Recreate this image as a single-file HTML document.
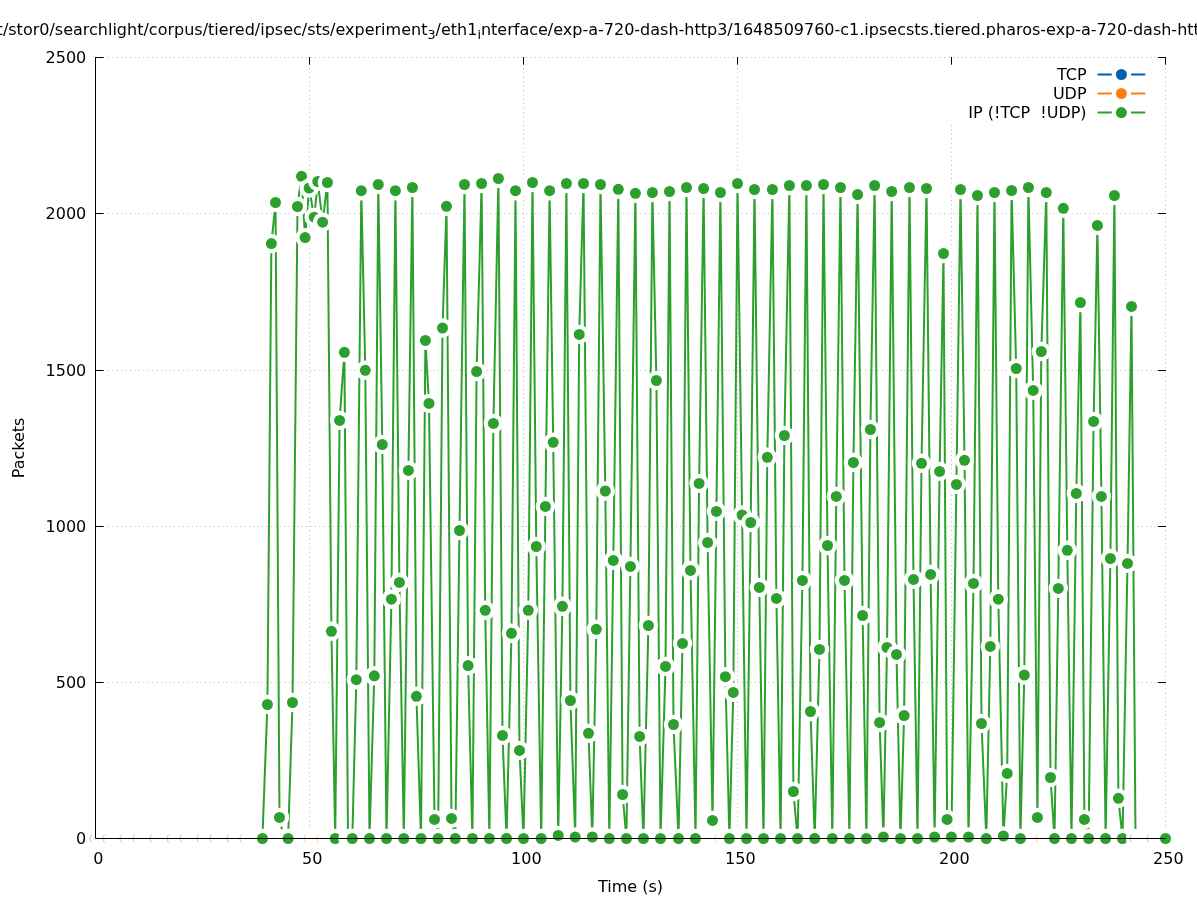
<!DOCTYPE html>
<html lang="en"><head><meta charset="utf-8"><title>Packets over time</title>
<style>html,body{margin:0;padding:0;background:#fff}svg{display:block}text{font-family:"DejaVu Sans","Liberation Sans",sans-serif;font-size:16px;fill:#000}</style></head><body>
<svg width="1197" height="900" viewBox="0 0 1197 900">
<rect width="1197" height="900" fill="#fff"/>
<g stroke="#000" stroke-opacity="0.62" stroke-width="0.5" stroke-dasharray="0.9 3.5" fill="none">
<path d="M108.15 682.5H1165.5"/>
<path d="M108.15 526.5H1165.5"/>
<path d="M108.15 370.5H1165.5"/>
<path d="M108.15 213.5H1165.5"/>
<path d="M108.15 57.5H1165.5"/>
<path d="M309.5 68.05V838.5"/>
<path d="M523.5 68.05V838.5"/>
<path d="M737.5 68.05V838.5"/>
<path d="M951.5 125.25V838.5"/>
<path d="M1165.5 68.05V838.5"/>
</g>
<g stroke="#000" stroke-width="1" fill="none">
<path d="M95.5 838.5h8.2M1166 838.5h-8"/>
<path d="M95.5 682.5h8.2M1166 682.5h-8"/>
<path d="M95.5 526.5h8.2M1166 526.5h-8"/>
<path d="M95.5 370.5h8.2M1166 370.5h-8"/>
<path d="M95.5 213.5h8.2M1166 213.5h-8"/>
<path d="M95.5 57.5h8.2M1166 57.5h-8"/>
<path d="M95.5 838.5v-8M95.5 57.0v7.7"/>
<path d="M309.5 838.5v-8M309.5 57.0v7.7"/>
<path d="M523.5 838.5v-8M523.5 57.0v7.7"/>
<path d="M737.5 838.5v-8M737.5 57.0v7.7"/>
<path d="M951.5 838.5v-8M951.5 57.0v7.7"/>
<path d="M1165.5 838.5v-8M1165.5 57.0v7.7"/>
</g>
<path d="M95.5 838.5H1165.5" stroke="#fff" stroke-width="19.4" stroke-linecap="round" fill="none"/>
<g fill="none" stroke-width="0.55" stroke-opacity="0.75">
<path d="M92.0 834.3A5.5 5.5 0 0 0 92.0 842.7" stroke="#ff7f0e"/>
<path d="M104.8 834.3A5.5 5.5 0 0 0 104.8 842.7" stroke="#ff7f0e"/>
<path d="M121.9 834.3A5.5 5.5 0 0 0 121.9 842.7" stroke="#ff7f0e"/>
<path d="M134.8 834.3A5.5 5.5 0 0 0 134.8 842.7" stroke="#ff7f0e"/>
<path d="M151.9 834.3A5.5 5.5 0 0 0 151.9 842.7" stroke="#ff7f0e"/>
<path d="M169.0 834.3A5.5 5.5 0 0 0 169.0 842.7" stroke="#ff7f0e"/>
<path d="M181.8 834.3A5.5 5.5 0 0 0 181.8 842.7" stroke="#ff7f0e"/>
<path d="M199.0 834.3A5.5 5.5 0 0 0 199.0 842.7" stroke="#ff7f0e"/>
<path d="M211.8 834.3A5.5 5.5 0 0 0 211.8 842.7" stroke="#ff7f0e"/>
<path d="M228.9 834.3A5.5 5.5 0 0 0 228.9 842.7" stroke="#ff7f0e"/>
<path d="M241.8 834.3A5.5 5.5 0 0 0 241.8 842.7" stroke="#ff7f0e"/>
<path d="M258.9 834.3A5.5 5.5 0 0 0 258.9 842.7" stroke="#ff7f0e"/>
<path d="M276.0 834.3A5.5 5.5 0 0 0 276.0 842.7" stroke="#ff7f0e"/>
<path d="M288.8 834.3A5.5 5.5 0 0 0 288.8 842.7" stroke="#ff7f0e"/>
<path d="M306.0 834.3A5.5 5.5 0 0 0 306.0 842.7" stroke="#ff7f0e"/>
<path d="M318.8 834.3A5.5 5.5 0 0 0 318.8 842.7" stroke="#ff7f0e"/>
<path d="M335.9 834.3A5.5 5.5 0 0 0 335.9 842.7" stroke="#ff7f0e"/>
<path d="M348.8 834.3A5.5 5.5 0 0 0 348.8 842.7" stroke="#ff7f0e"/>
<path d="M365.9 834.3A5.5 5.5 0 0 0 365.9 842.7" stroke="#ff7f0e"/>
<path d="M383.0 834.3A5.5 5.5 0 0 0 383.0 842.7" stroke="#ff7f0e"/>
<path d="M395.8 834.3A5.5 5.5 0 0 0 395.8 842.7" stroke="#ff7f0e"/>
<path d="M413.0 834.3A5.5 5.5 0 0 0 413.0 842.7" stroke="#ff7f0e"/>
<path d="M425.8 834.3A5.5 5.5 0 0 0 425.8 842.7" stroke="#ff7f0e"/>
<path d="M442.9 834.3A5.5 5.5 0 0 0 442.9 842.7" stroke="#ff7f0e"/>
<path d="M455.8 834.3A5.5 5.5 0 0 0 455.8 842.7" stroke="#ff7f0e"/>
<path d="M472.9 834.3A5.5 5.5 0 0 0 472.9 842.7" stroke="#ff7f0e"/>
<path d="M490.0 834.3A5.5 5.5 0 0 0 490.0 842.7" stroke="#ff7f0e"/>
<path d="M502.8 834.3A5.5 5.5 0 0 0 502.8 842.7" stroke="#ff7f0e"/>
<path d="M520.0 834.3A5.5 5.5 0 0 0 520.0 842.7" stroke="#ff7f0e"/>
<path d="M532.8 834.3A5.5 5.5 0 0 0 532.8 842.7" stroke="#ff7f0e"/>
<path d="M549.9 834.3A5.5 5.5 0 0 0 549.9 842.7" stroke="#ff7f0e"/>
<path d="M562.8 834.3A5.5 5.5 0 0 0 562.8 842.7" stroke="#ff7f0e"/>
<path d="M579.9 834.3A5.5 5.5 0 0 0 579.9 842.7" stroke="#ff7f0e"/>
<path d="M597.0 834.3A5.5 5.5 0 0 0 597.0 842.7" stroke="#ff7f0e"/>
<path d="M609.8 834.3A5.5 5.5 0 0 0 609.8 842.7" stroke="#ff7f0e"/>
<path d="M627.0 834.3A5.5 5.5 0 0 0 627.0 842.7" stroke="#ff7f0e"/>
<path d="M639.8 834.3A5.5 5.5 0 0 0 639.8 842.7" stroke="#ff7f0e"/>
<path d="M656.9 834.3A5.5 5.5 0 0 0 656.9 842.7" stroke="#ff7f0e"/>
<path d="M669.8 834.3A5.5 5.5 0 0 0 669.8 842.7" stroke="#ff7f0e"/>
<path d="M686.9 834.3A5.5 5.5 0 0 0 686.9 842.7" stroke="#ff7f0e"/>
<path d="M704.0 834.3A5.5 5.5 0 0 0 704.0 842.7" stroke="#ff7f0e"/>
<path d="M716.8 834.3A5.5 5.5 0 0 0 716.8 842.7" stroke="#ff7f0e"/>
<path d="M734.0 834.3A5.5 5.5 0 0 0 734.0 842.7" stroke="#ff7f0e"/>
<path d="M746.8 834.3A5.5 5.5 0 0 0 746.8 842.7" stroke="#ff7f0e"/>
<path d="M763.9 834.3A5.5 5.5 0 0 0 763.9 842.7" stroke="#ff7f0e"/>
<path d="M776.8 834.3A5.5 5.5 0 0 0 776.8 842.7" stroke="#ff7f0e"/>
<path d="M793.9 834.3A5.5 5.5 0 0 0 793.9 842.7" stroke="#ff7f0e"/>
<path d="M811.0 834.3A5.5 5.5 0 0 0 811.0 842.7" stroke="#ff7f0e"/>
<path d="M823.8 834.3A5.5 5.5 0 0 0 823.8 842.7" stroke="#ff7f0e"/>
<path d="M841.0 834.3A5.5 5.5 0 0 0 841.0 842.7" stroke="#ff7f0e"/>
<path d="M853.8 834.3A5.5 5.5 0 0 0 853.8 842.7" stroke="#ff7f0e"/>
<path d="M870.9 834.3A5.5 5.5 0 0 0 870.9 842.7" stroke="#ff7f0e"/>
<path d="M883.8 834.3A5.5 5.5 0 0 0 883.8 842.7" stroke="#ff7f0e"/>
<path d="M900.9 834.3A5.5 5.5 0 0 0 900.9 842.7" stroke="#ff7f0e"/>
<path d="M918.0 834.3A5.5 5.5 0 0 0 918.0 842.7" stroke="#ff7f0e"/>
<path d="M930.8 834.3A5.5 5.5 0 0 0 930.8 842.7" stroke="#ff7f0e"/>
<path d="M948.0 834.3A5.5 5.5 0 0 0 948.0 842.7" stroke="#ff7f0e"/>
<path d="M960.8 834.3A5.5 5.5 0 0 0 960.8 842.7" stroke="#ff7f0e"/>
<path d="M977.9 834.3A5.5 5.5 0 0 0 977.9 842.7" stroke="#ff7f0e"/>
<path d="M990.8 834.3A5.5 5.5 0 0 0 990.8 842.7" stroke="#ff7f0e"/>
<path d="M1007.9 834.3A5.5 5.5 0 0 0 1007.9 842.7" stroke="#ff7f0e"/>
<path d="M1025.0 834.3A5.5 5.5 0 0 0 1025.0 842.7" stroke="#ff7f0e"/>
<path d="M1037.8 834.3A5.5 5.5 0 0 0 1037.8 842.7" stroke="#ff7f0e"/>
<path d="M1055.0 834.3A5.5 5.5 0 0 0 1055.0 842.7" stroke="#ff7f0e"/>
<path d="M1067.8 834.3A5.5 5.5 0 0 0 1067.8 842.7" stroke="#ff7f0e"/>
<path d="M1084.9 834.3A5.5 5.5 0 0 0 1084.9 842.7" stroke="#ff7f0e"/>
<path d="M1097.8 834.3A5.5 5.5 0 0 0 1097.8 842.7" stroke="#ff7f0e"/>
<path d="M1114.9 834.3A5.5 5.5 0 0 0 1114.9 842.7" stroke="#ff7f0e"/>
<path d="M1132.0 834.3A5.5 5.5 0 0 0 1132.0 842.7" stroke="#ff7f0e"/>
<path d="M1144.8 834.3A5.5 5.5 0 0 0 1144.8 842.7" stroke="#ff7f0e"/>
</g>
<polyline points="95.5,838.5 99.8,838.5 104.1,838.5 108.3,838.5 112.6,838.5 116.9,838.5 121.2,838.5 125.5,838.5 129.7,838.5 134.0,838.5 138.3,838.5 142.6,838.5 146.9,838.5 151.1,838.5 155.4,838.5 159.7,838.5 164.0,838.5 168.3,838.5 172.5,838.5 176.8,838.5 181.1,838.5 185.4,838.5 189.7,838.5 193.9,838.5 198.2,838.5 202.5,838.5 206.8,838.5 211.1,838.5 215.3,838.5 219.6,838.5 223.9,838.5 228.2,838.5 232.5,838.5 236.7,838.5 241.0,838.5 245.3,838.5 249.6,838.5 253.9,838.5 258.1,838.5 262.4,838.5 267.4,704.5 271.4,243.6 275.5,202.5 279.5,817.4 283.8,838.5 288.1,838.5 292.5,702.5 297.5,206.5 301.5,176.3 305.1,237.6 309.1,188.1 314.2,217.2 317.8,181.5 322.6,222.2 327.4,182.5 331.4,631.3 335.2,838.5 339.6,420.4 344.4,352.3 348.0,838.5 352.3,838.5 356.3,679.7 361.3,190.7 365.3,370.3 369.5,838.5 374.3,675.8 378.3,184.5 382.3,444.5 386.5,838.5 391.4,599.2 395.4,190.7 399.4,582.4 403.8,838.5 408.4,470.4 412.4,187.5 416.4,696.3 421.0,838.5 425.4,340.4 429.0,403.4 434.5,819.4 438.1,838.5 442.5,328.0 446.5,206.3 451.5,818.4 455.3,838.5 459.5,530.5 464.5,184.5 468.1,665.6 472.4,838.5 476.6,371.5 481.6,183.5 485.2,610.3 489.4,838.5 493.4,423.4 498.4,178.5 502.5,735.4 506.5,838.5 511.5,633.3 515.5,190.7 519.5,750.4 523.5,838.5 528.3,610.3 532.5,182.5 536.3,546.5 541.2,838.5 545.4,506.4 549.6,190.7 553.2,442.3 558.2,835.4 562.4,606.3 566.4,183.5 570.4,700.5 575.2,837.0 579.2,334.4 583.5,183.5 588.5,733.3 592.3,837.0 596.3,629.3 600.5,184.5 605.3,491.0 609.3,838.5 613.3,560.4 618.3,189.3 622.6,794.5 626.4,838.5 630.4,566.4 635.4,193.3 639.6,736.4 643.4,838.5 648.4,625.5 652.4,192.5 656.4,380.5 660.5,838.5 665.5,666.4 669.5,191.5 673.5,724.5 678.5,838.5 682.5,643.4 686.5,187.5 690.5,570.4 695.5,838.5 699.1,483.4 703.6,188.5 707.6,542.5 712.5,820.4 716.4,511.4 720.4,192.5 725.4,676.7 729.4,838.5 733.3,692.4 737.5,183.5 742.1,515.0 746.5,838.5 750.7,522.5 754.5,189.5 759.3,587.4 763.5,838.5 767.3,457.3 772.4,189.5 776.4,598.4 780.6,838.5 784.4,435.5 789.4,185.5 793.4,791.5 797.6,838.5 802.4,580.4 806.4,185.5 810.5,711.5 814.7,838.5 819.5,649.4 823.5,184.5 827.5,545.5 832.3,838.5 836.3,496.4 840.5,187.5 844.5,580.4 849.4,838.5 853.4,462.5 857.6,194.5 862.6,615.5 866.4,838.5 870.4,429.5 874.6,185.5 879.6,722.5 883.4,837.0 887.0,647.4 891.7,191.5 896.5,654.4 900.5,838.5 904.1,715.5 909.5,187.5 913.5,579.4 917.5,838.5 921.5,463.3 926.5,188.5 930.6,574.4 934.6,837.0 939.6,471.4 943.5,253.5 947.1,819.4 951.4,837.0 956.4,484.4 960.5,189.5 964.5,460.3 968.5,837.0 973.5,583.4 977.5,195.5 981.5,723.5 986.3,838.5 990.3,646.4 994.5,192.5 998.3,599.2 1003.4,836.0 1007.2,773.4 1011.6,190.5 1016.2,368.5 1020.4,838.5 1024.3,675.0 1028.4,187.5 1033.2,390.4 1037.4,817.4 1041.3,351.5 1046.3,192.5 1050.5,777.5 1054.5,838.5 1058.3,588.4 1063.3,208.3 1067.3,550.3 1071.5,838.5 1076.3,493.4 1080.4,302.6 1084.4,819.4 1088.6,838.5 1093.6,421.4 1097.4,225.4 1101.4,496.4 1105.6,838.5 1110.4,558.5 1114.4,195.5 1118.4,798.3 1122.5,838.5 1127.5,563.4 1131.5,306.4 1135.5,838.5 1139.8,838.5 1144.1,838.5 1148.4,838.5 1152.7,838.5 1156.9,838.5 1161.2,838.5 1165.5,838.5" fill="none" stroke="#2ca02c" stroke-width="2.0" stroke-linejoin="round" stroke-linecap="butt"/>
<g>
<circle cx="95.5" cy="838.5" r="9.7" fill="#fff"/>
<circle cx="99.8" cy="838.5" r="9.7" fill="#fff"/>
<circle cx="104.1" cy="838.5" r="9.7" fill="#fff"/>
<circle cx="108.3" cy="838.5" r="9.7" fill="#fff"/>
<circle cx="112.6" cy="838.5" r="9.7" fill="#fff"/>
<circle cx="116.9" cy="838.5" r="9.7" fill="#fff"/>
<circle cx="121.2" cy="838.5" r="9.7" fill="#fff"/>
<circle cx="125.5" cy="838.5" r="9.7" fill="#fff"/>
<circle cx="129.7" cy="838.5" r="9.7" fill="#fff"/>
<circle cx="134.0" cy="838.5" r="9.7" fill="#fff"/>
<circle cx="138.3" cy="838.5" r="9.7" fill="#fff"/>
<circle cx="142.6" cy="838.5" r="9.7" fill="#fff"/>
<circle cx="146.9" cy="838.5" r="9.7" fill="#fff"/>
<circle cx="151.1" cy="838.5" r="9.7" fill="#fff"/>
<circle cx="155.4" cy="838.5" r="9.7" fill="#fff"/>
<circle cx="159.7" cy="838.5" r="9.7" fill="#fff"/>
<circle cx="164.0" cy="838.5" r="9.7" fill="#fff"/>
<circle cx="168.3" cy="838.5" r="9.7" fill="#fff"/>
<circle cx="172.5" cy="838.5" r="9.7" fill="#fff"/>
<circle cx="176.8" cy="838.5" r="9.7" fill="#fff"/>
<circle cx="181.1" cy="838.5" r="9.7" fill="#fff"/>
<circle cx="185.4" cy="838.5" r="9.7" fill="#fff"/>
<circle cx="189.7" cy="838.5" r="9.7" fill="#fff"/>
<circle cx="193.9" cy="838.5" r="9.7" fill="#fff"/>
<circle cx="198.2" cy="838.5" r="9.7" fill="#fff"/>
<circle cx="202.5" cy="838.5" r="9.7" fill="#fff"/>
<circle cx="206.8" cy="838.5" r="9.7" fill="#fff"/>
<circle cx="211.1" cy="838.5" r="9.7" fill="#fff"/>
<circle cx="215.3" cy="838.5" r="9.7" fill="#fff"/>
<circle cx="219.6" cy="838.5" r="9.7" fill="#fff"/>
<circle cx="223.9" cy="838.5" r="9.7" fill="#fff"/>
<circle cx="228.2" cy="838.5" r="9.7" fill="#fff"/>
<circle cx="232.5" cy="838.5" r="9.7" fill="#fff"/>
<circle cx="236.7" cy="838.5" r="9.7" fill="#fff"/>
<circle cx="241.0" cy="838.5" r="9.7" fill="#fff"/>
<circle cx="245.3" cy="838.5" r="9.7" fill="#fff"/>
<circle cx="249.6" cy="838.5" r="9.7" fill="#fff"/>
<circle cx="253.9" cy="838.5" r="9.7" fill="#fff"/>
<circle cx="258.1" cy="838.5" r="9.7" fill="#fff"/>
<circle cx="262.4" cy="838.5" r="9.7" fill="#fff"/><circle cx="262.4" cy="838.5" r="5.5" fill="#2ca02c"/>
<circle cx="267.4" cy="704.5" r="9.7" fill="#fff"/><circle cx="267.4" cy="704.5" r="5.5" fill="#2ca02c"/>
<circle cx="271.4" cy="243.6" r="9.7" fill="#fff"/><circle cx="271.4" cy="243.6" r="5.5" fill="#2ca02c"/>
<circle cx="275.5" cy="202.5" r="9.7" fill="#fff"/><circle cx="275.5" cy="202.5" r="5.5" fill="#2ca02c"/>
<circle cx="279.5" cy="817.4" r="9.7" fill="#fff"/><circle cx="279.5" cy="817.4" r="5.5" fill="#2ca02c"/>
<circle cx="283.8" cy="838.5" r="9.7" fill="#fff"/>
<circle cx="288.1" cy="838.5" r="9.7" fill="#fff"/><circle cx="288.1" cy="838.5" r="5.5" fill="#2ca02c"/>
<circle cx="292.5" cy="702.5" r="9.7" fill="#fff"/><circle cx="292.5" cy="702.5" r="5.5" fill="#2ca02c"/>
<circle cx="297.5" cy="206.5" r="9.7" fill="#fff"/><circle cx="297.5" cy="206.5" r="5.5" fill="#2ca02c"/>
<circle cx="301.5" cy="176.3" r="9.7" fill="#fff"/><circle cx="301.5" cy="176.3" r="5.5" fill="#2ca02c"/>
<circle cx="305.1" cy="237.6" r="9.7" fill="#fff"/><circle cx="305.1" cy="237.6" r="5.5" fill="#2ca02c"/>
<circle cx="309.1" cy="188.1" r="9.7" fill="#fff"/><circle cx="309.1" cy="188.1" r="5.5" fill="#2ca02c"/>
<circle cx="314.2" cy="217.2" r="9.7" fill="#fff"/><circle cx="314.2" cy="217.2" r="5.5" fill="#2ca02c"/>
<circle cx="317.8" cy="181.5" r="9.7" fill="#fff"/><circle cx="317.8" cy="181.5" r="5.5" fill="#2ca02c"/>
<circle cx="322.6" cy="222.2" r="9.7" fill="#fff"/><circle cx="322.6" cy="222.2" r="5.5" fill="#2ca02c"/>
<circle cx="327.4" cy="182.5" r="9.7" fill="#fff"/><circle cx="327.4" cy="182.5" r="5.5" fill="#2ca02c"/>
<circle cx="331.4" cy="631.3" r="9.7" fill="#fff"/><circle cx="331.4" cy="631.3" r="5.5" fill="#2ca02c"/>
<circle cx="335.2" cy="838.5" r="9.7" fill="#fff"/><circle cx="335.2" cy="838.5" r="5.5" fill="#2ca02c"/>
<circle cx="339.6" cy="420.4" r="9.7" fill="#fff"/><circle cx="339.6" cy="420.4" r="5.5" fill="#2ca02c"/>
<circle cx="344.4" cy="352.3" r="9.7" fill="#fff"/><circle cx="344.4" cy="352.3" r="5.5" fill="#2ca02c"/>
<circle cx="348.0" cy="838.5" r="9.7" fill="#fff"/>
<circle cx="352.3" cy="838.5" r="9.7" fill="#fff"/><circle cx="352.3" cy="838.5" r="5.5" fill="#2ca02c"/>
<circle cx="356.3" cy="679.7" r="9.7" fill="#fff"/><circle cx="356.3" cy="679.7" r="5.5" fill="#2ca02c"/>
<circle cx="361.3" cy="190.7" r="9.7" fill="#fff"/><circle cx="361.3" cy="190.7" r="5.5" fill="#2ca02c"/>
<circle cx="365.3" cy="370.3" r="9.7" fill="#fff"/><circle cx="365.3" cy="370.3" r="5.5" fill="#2ca02c"/>
<circle cx="369.5" cy="838.5" r="9.7" fill="#fff"/><circle cx="369.5" cy="838.5" r="5.5" fill="#2ca02c"/>
<circle cx="374.3" cy="675.8" r="9.7" fill="#fff"/><circle cx="374.3" cy="675.8" r="5.5" fill="#2ca02c"/>
<circle cx="378.3" cy="184.5" r="9.7" fill="#fff"/><circle cx="378.3" cy="184.5" r="5.5" fill="#2ca02c"/>
<circle cx="382.3" cy="444.5" r="9.7" fill="#fff"/><circle cx="382.3" cy="444.5" r="5.5" fill="#2ca02c"/>
<circle cx="386.5" cy="838.5" r="9.7" fill="#fff"/><circle cx="386.5" cy="838.5" r="5.5" fill="#2ca02c"/>
<circle cx="391.4" cy="599.2" r="9.7" fill="#fff"/><circle cx="391.4" cy="599.2" r="5.5" fill="#2ca02c"/>
<circle cx="395.4" cy="190.7" r="9.7" fill="#fff"/><circle cx="395.4" cy="190.7" r="5.5" fill="#2ca02c"/>
<circle cx="399.4" cy="582.4" r="9.7" fill="#fff"/><circle cx="399.4" cy="582.4" r="5.5" fill="#2ca02c"/>
<circle cx="403.8" cy="838.5" r="9.7" fill="#fff"/><circle cx="403.8" cy="838.5" r="5.5" fill="#2ca02c"/>
<circle cx="408.4" cy="470.4" r="9.7" fill="#fff"/><circle cx="408.4" cy="470.4" r="5.5" fill="#2ca02c"/>
<circle cx="412.4" cy="187.5" r="9.7" fill="#fff"/><circle cx="412.4" cy="187.5" r="5.5" fill="#2ca02c"/>
<circle cx="416.4" cy="696.3" r="9.7" fill="#fff"/><circle cx="416.4" cy="696.3" r="5.5" fill="#2ca02c"/>
<circle cx="421.0" cy="838.5" r="9.7" fill="#fff"/><circle cx="421.0" cy="838.5" r="5.5" fill="#2ca02c"/>
<circle cx="425.4" cy="340.4" r="9.7" fill="#fff"/><circle cx="425.4" cy="340.4" r="5.5" fill="#2ca02c"/>
<circle cx="429.0" cy="403.4" r="9.7" fill="#fff"/><circle cx="429.0" cy="403.4" r="5.5" fill="#2ca02c"/>
<circle cx="434.5" cy="819.4" r="9.7" fill="#fff"/><circle cx="434.5" cy="819.4" r="5.5" fill="#2ca02c"/>
<circle cx="438.1" cy="838.5" r="9.7" fill="#fff"/><circle cx="438.1" cy="838.5" r="5.5" fill="#2ca02c"/>
<circle cx="442.5" cy="328.0" r="9.7" fill="#fff"/><circle cx="442.5" cy="328.0" r="5.5" fill="#2ca02c"/>
<circle cx="446.5" cy="206.3" r="9.7" fill="#fff"/><circle cx="446.5" cy="206.3" r="5.5" fill="#2ca02c"/>
<circle cx="451.5" cy="818.4" r="9.7" fill="#fff"/><circle cx="451.5" cy="818.4" r="5.5" fill="#2ca02c"/>
<circle cx="455.3" cy="838.5" r="9.7" fill="#fff"/><circle cx="455.3" cy="838.5" r="5.5" fill="#2ca02c"/>
<circle cx="459.5" cy="530.5" r="9.7" fill="#fff"/><circle cx="459.5" cy="530.5" r="5.5" fill="#2ca02c"/>
<circle cx="464.5" cy="184.5" r="9.7" fill="#fff"/><circle cx="464.5" cy="184.5" r="5.5" fill="#2ca02c"/>
<circle cx="468.1" cy="665.6" r="9.7" fill="#fff"/><circle cx="468.1" cy="665.6" r="5.5" fill="#2ca02c"/>
<circle cx="472.4" cy="838.5" r="9.7" fill="#fff"/><circle cx="472.4" cy="838.5" r="5.5" fill="#2ca02c"/>
<circle cx="476.6" cy="371.5" r="9.7" fill="#fff"/><circle cx="476.6" cy="371.5" r="5.5" fill="#2ca02c"/>
<circle cx="481.6" cy="183.5" r="9.7" fill="#fff"/><circle cx="481.6" cy="183.5" r="5.5" fill="#2ca02c"/>
<circle cx="485.2" cy="610.3" r="9.7" fill="#fff"/><circle cx="485.2" cy="610.3" r="5.5" fill="#2ca02c"/>
<circle cx="489.4" cy="838.5" r="9.7" fill="#fff"/><circle cx="489.4" cy="838.5" r="5.5" fill="#2ca02c"/>
<circle cx="493.4" cy="423.4" r="9.7" fill="#fff"/><circle cx="493.4" cy="423.4" r="5.5" fill="#2ca02c"/>
<circle cx="498.4" cy="178.5" r="9.7" fill="#fff"/><circle cx="498.4" cy="178.5" r="5.5" fill="#2ca02c"/>
<circle cx="502.5" cy="735.4" r="9.7" fill="#fff"/><circle cx="502.5" cy="735.4" r="5.5" fill="#2ca02c"/>
<circle cx="506.5" cy="838.5" r="9.7" fill="#fff"/><circle cx="506.5" cy="838.5" r="5.5" fill="#2ca02c"/>
<circle cx="511.5" cy="633.3" r="9.7" fill="#fff"/><circle cx="511.5" cy="633.3" r="5.5" fill="#2ca02c"/>
<circle cx="515.5" cy="190.7" r="9.7" fill="#fff"/><circle cx="515.5" cy="190.7" r="5.5" fill="#2ca02c"/>
<circle cx="519.5" cy="750.4" r="9.7" fill="#fff"/><circle cx="519.5" cy="750.4" r="5.5" fill="#2ca02c"/>
<circle cx="523.5" cy="838.5" r="9.7" fill="#fff"/><circle cx="523.5" cy="838.5" r="5.5" fill="#2ca02c"/>
<circle cx="528.3" cy="610.3" r="9.7" fill="#fff"/><circle cx="528.3" cy="610.3" r="5.5" fill="#2ca02c"/>
<circle cx="532.5" cy="182.5" r="9.7" fill="#fff"/><circle cx="532.5" cy="182.5" r="5.5" fill="#2ca02c"/>
<circle cx="536.3" cy="546.5" r="9.7" fill="#fff"/><circle cx="536.3" cy="546.5" r="5.5" fill="#2ca02c"/>
<circle cx="541.2" cy="838.5" r="9.7" fill="#fff"/><circle cx="541.2" cy="838.5" r="5.5" fill="#2ca02c"/>
<circle cx="545.4" cy="506.4" r="9.7" fill="#fff"/><circle cx="545.4" cy="506.4" r="5.5" fill="#2ca02c"/>
<circle cx="549.6" cy="190.7" r="9.7" fill="#fff"/><circle cx="549.6" cy="190.7" r="5.5" fill="#2ca02c"/>
<circle cx="553.2" cy="442.3" r="9.7" fill="#fff"/><circle cx="553.2" cy="442.3" r="5.5" fill="#2ca02c"/>
<circle cx="558.2" cy="835.4" r="9.7" fill="#fff"/><circle cx="558.2" cy="835.4" r="5.5" fill="#2ca02c"/>
<circle cx="562.4" cy="606.3" r="9.7" fill="#fff"/><circle cx="562.4" cy="606.3" r="5.5" fill="#2ca02c"/>
<circle cx="566.4" cy="183.5" r="9.7" fill="#fff"/><circle cx="566.4" cy="183.5" r="5.5" fill="#2ca02c"/>
<circle cx="570.4" cy="700.5" r="9.7" fill="#fff"/><circle cx="570.4" cy="700.5" r="5.5" fill="#2ca02c"/>
<circle cx="575.2" cy="837.0" r="9.7" fill="#fff"/><circle cx="575.2" cy="837.0" r="5.5" fill="#2ca02c"/>
<circle cx="579.2" cy="334.4" r="9.7" fill="#fff"/><circle cx="579.2" cy="334.4" r="5.5" fill="#2ca02c"/>
<circle cx="583.5" cy="183.5" r="9.7" fill="#fff"/><circle cx="583.5" cy="183.5" r="5.5" fill="#2ca02c"/>
<circle cx="588.5" cy="733.3" r="9.7" fill="#fff"/><circle cx="588.5" cy="733.3" r="5.5" fill="#2ca02c"/>
<circle cx="592.3" cy="837.0" r="9.7" fill="#fff"/><circle cx="592.3" cy="837.0" r="5.5" fill="#2ca02c"/>
<circle cx="596.3" cy="629.3" r="9.7" fill="#fff"/><circle cx="596.3" cy="629.3" r="5.5" fill="#2ca02c"/>
<circle cx="600.5" cy="184.5" r="9.7" fill="#fff"/><circle cx="600.5" cy="184.5" r="5.5" fill="#2ca02c"/>
<circle cx="605.3" cy="491.0" r="9.7" fill="#fff"/><circle cx="605.3" cy="491.0" r="5.5" fill="#2ca02c"/>
<circle cx="609.3" cy="838.5" r="9.7" fill="#fff"/><circle cx="609.3" cy="838.5" r="5.5" fill="#2ca02c"/>
<circle cx="613.3" cy="560.4" r="9.7" fill="#fff"/><circle cx="613.3" cy="560.4" r="5.5" fill="#2ca02c"/>
<circle cx="618.3" cy="189.3" r="9.7" fill="#fff"/><circle cx="618.3" cy="189.3" r="5.5" fill="#2ca02c"/>
<circle cx="622.6" cy="794.5" r="9.7" fill="#fff"/><circle cx="622.6" cy="794.5" r="5.5" fill="#2ca02c"/>
<circle cx="626.4" cy="838.5" r="9.7" fill="#fff"/><circle cx="626.4" cy="838.5" r="5.5" fill="#2ca02c"/>
<circle cx="630.4" cy="566.4" r="9.7" fill="#fff"/><circle cx="630.4" cy="566.4" r="5.5" fill="#2ca02c"/>
<circle cx="635.4" cy="193.3" r="9.7" fill="#fff"/><circle cx="635.4" cy="193.3" r="5.5" fill="#2ca02c"/>
<circle cx="639.6" cy="736.4" r="9.7" fill="#fff"/><circle cx="639.6" cy="736.4" r="5.5" fill="#2ca02c"/>
<circle cx="643.4" cy="838.5" r="9.7" fill="#fff"/><circle cx="643.4" cy="838.5" r="5.5" fill="#2ca02c"/>
<circle cx="648.4" cy="625.5" r="9.7" fill="#fff"/><circle cx="648.4" cy="625.5" r="5.5" fill="#2ca02c"/>
<circle cx="652.4" cy="192.5" r="9.7" fill="#fff"/><circle cx="652.4" cy="192.5" r="5.5" fill="#2ca02c"/>
<circle cx="656.4" cy="380.5" r="9.7" fill="#fff"/><circle cx="656.4" cy="380.5" r="5.5" fill="#2ca02c"/>
<circle cx="660.5" cy="838.5" r="9.7" fill="#fff"/><circle cx="660.5" cy="838.5" r="5.5" fill="#2ca02c"/>
<circle cx="665.5" cy="666.4" r="9.7" fill="#fff"/><circle cx="665.5" cy="666.4" r="5.5" fill="#2ca02c"/>
<circle cx="669.5" cy="191.5" r="9.7" fill="#fff"/><circle cx="669.5" cy="191.5" r="5.5" fill="#2ca02c"/>
<circle cx="673.5" cy="724.5" r="9.7" fill="#fff"/><circle cx="673.5" cy="724.5" r="5.5" fill="#2ca02c"/>
<circle cx="678.5" cy="838.5" r="9.7" fill="#fff"/><circle cx="678.5" cy="838.5" r="5.5" fill="#2ca02c"/>
<circle cx="682.5" cy="643.4" r="9.7" fill="#fff"/><circle cx="682.5" cy="643.4" r="5.5" fill="#2ca02c"/>
<circle cx="686.5" cy="187.5" r="9.7" fill="#fff"/><circle cx="686.5" cy="187.5" r="5.5" fill="#2ca02c"/>
<circle cx="690.5" cy="570.4" r="9.7" fill="#fff"/><circle cx="690.5" cy="570.4" r="5.5" fill="#2ca02c"/>
<circle cx="695.5" cy="838.5" r="9.7" fill="#fff"/><circle cx="695.5" cy="838.5" r="5.5" fill="#2ca02c"/>
<circle cx="699.1" cy="483.4" r="9.7" fill="#fff"/><circle cx="699.1" cy="483.4" r="5.5" fill="#2ca02c"/>
<circle cx="703.6" cy="188.5" r="9.7" fill="#fff"/><circle cx="703.6" cy="188.5" r="5.5" fill="#2ca02c"/>
<circle cx="707.6" cy="542.5" r="9.7" fill="#fff"/><circle cx="707.6" cy="542.5" r="5.5" fill="#2ca02c"/>
<circle cx="712.5" cy="820.4" r="9.7" fill="#fff"/><circle cx="712.5" cy="820.4" r="5.5" fill="#2ca02c"/>
<circle cx="716.4" cy="511.4" r="9.7" fill="#fff"/><circle cx="716.4" cy="511.4" r="5.5" fill="#2ca02c"/>
<circle cx="720.4" cy="192.5" r="9.7" fill="#fff"/><circle cx="720.4" cy="192.5" r="5.5" fill="#2ca02c"/>
<circle cx="725.4" cy="676.7" r="9.7" fill="#fff"/><circle cx="725.4" cy="676.7" r="5.5" fill="#2ca02c"/>
<circle cx="729.4" cy="838.5" r="9.7" fill="#fff"/><circle cx="729.4" cy="838.5" r="5.5" fill="#2ca02c"/>
<circle cx="733.3" cy="692.4" r="9.7" fill="#fff"/><circle cx="733.3" cy="692.4" r="5.5" fill="#2ca02c"/>
<circle cx="737.5" cy="183.5" r="9.7" fill="#fff"/><circle cx="737.5" cy="183.5" r="5.5" fill="#2ca02c"/>
<circle cx="742.1" cy="515.0" r="9.7" fill="#fff"/><circle cx="742.1" cy="515.0" r="5.5" fill="#2ca02c"/>
<circle cx="746.5" cy="838.5" r="9.7" fill="#fff"/><circle cx="746.5" cy="838.5" r="5.5" fill="#2ca02c"/>
<circle cx="750.7" cy="522.5" r="9.7" fill="#fff"/><circle cx="750.7" cy="522.5" r="5.5" fill="#2ca02c"/>
<circle cx="754.5" cy="189.5" r="9.7" fill="#fff"/><circle cx="754.5" cy="189.5" r="5.5" fill="#2ca02c"/>
<circle cx="759.3" cy="587.4" r="9.7" fill="#fff"/><circle cx="759.3" cy="587.4" r="5.5" fill="#2ca02c"/>
<circle cx="763.5" cy="838.5" r="9.7" fill="#fff"/><circle cx="763.5" cy="838.5" r="5.5" fill="#2ca02c"/>
<circle cx="767.3" cy="457.3" r="9.7" fill="#fff"/><circle cx="767.3" cy="457.3" r="5.5" fill="#2ca02c"/>
<circle cx="772.4" cy="189.5" r="9.7" fill="#fff"/><circle cx="772.4" cy="189.5" r="5.5" fill="#2ca02c"/>
<circle cx="776.4" cy="598.4" r="9.7" fill="#fff"/><circle cx="776.4" cy="598.4" r="5.5" fill="#2ca02c"/>
<circle cx="780.6" cy="838.5" r="9.7" fill="#fff"/><circle cx="780.6" cy="838.5" r="5.5" fill="#2ca02c"/>
<circle cx="784.4" cy="435.5" r="9.7" fill="#fff"/><circle cx="784.4" cy="435.5" r="5.5" fill="#2ca02c"/>
<circle cx="789.4" cy="185.5" r="9.7" fill="#fff"/><circle cx="789.4" cy="185.5" r="5.5" fill="#2ca02c"/>
<circle cx="793.4" cy="791.5" r="9.7" fill="#fff"/><circle cx="793.4" cy="791.5" r="5.5" fill="#2ca02c"/>
<circle cx="797.6" cy="838.5" r="9.7" fill="#fff"/><circle cx="797.6" cy="838.5" r="5.5" fill="#2ca02c"/>
<circle cx="802.4" cy="580.4" r="9.7" fill="#fff"/><circle cx="802.4" cy="580.4" r="5.5" fill="#2ca02c"/>
<circle cx="806.4" cy="185.5" r="9.7" fill="#fff"/><circle cx="806.4" cy="185.5" r="5.5" fill="#2ca02c"/>
<circle cx="810.5" cy="711.5" r="9.7" fill="#fff"/><circle cx="810.5" cy="711.5" r="5.5" fill="#2ca02c"/>
<circle cx="814.7" cy="838.5" r="9.7" fill="#fff"/><circle cx="814.7" cy="838.5" r="5.5" fill="#2ca02c"/>
<circle cx="819.5" cy="649.4" r="9.7" fill="#fff"/><circle cx="819.5" cy="649.4" r="5.5" fill="#2ca02c"/>
<circle cx="823.5" cy="184.5" r="9.7" fill="#fff"/><circle cx="823.5" cy="184.5" r="5.5" fill="#2ca02c"/>
<circle cx="827.5" cy="545.5" r="9.7" fill="#fff"/><circle cx="827.5" cy="545.5" r="5.5" fill="#2ca02c"/>
<circle cx="832.3" cy="838.5" r="9.7" fill="#fff"/><circle cx="832.3" cy="838.5" r="5.5" fill="#2ca02c"/>
<circle cx="836.3" cy="496.4" r="9.7" fill="#fff"/><circle cx="836.3" cy="496.4" r="5.5" fill="#2ca02c"/>
<circle cx="840.5" cy="187.5" r="9.7" fill="#fff"/><circle cx="840.5" cy="187.5" r="5.5" fill="#2ca02c"/>
<circle cx="844.5" cy="580.4" r="9.7" fill="#fff"/><circle cx="844.5" cy="580.4" r="5.5" fill="#2ca02c"/>
<circle cx="849.4" cy="838.5" r="9.7" fill="#fff"/><circle cx="849.4" cy="838.5" r="5.5" fill="#2ca02c"/>
<circle cx="853.4" cy="462.5" r="9.7" fill="#fff"/><circle cx="853.4" cy="462.5" r="5.5" fill="#2ca02c"/>
<circle cx="857.6" cy="194.5" r="9.7" fill="#fff"/><circle cx="857.6" cy="194.5" r="5.5" fill="#2ca02c"/>
<circle cx="862.6" cy="615.5" r="9.7" fill="#fff"/><circle cx="862.6" cy="615.5" r="5.5" fill="#2ca02c"/>
<circle cx="866.4" cy="838.5" r="9.7" fill="#fff"/><circle cx="866.4" cy="838.5" r="5.5" fill="#2ca02c"/>
<circle cx="870.4" cy="429.5" r="9.7" fill="#fff"/><circle cx="870.4" cy="429.5" r="5.5" fill="#2ca02c"/>
<circle cx="874.6" cy="185.5" r="9.7" fill="#fff"/><circle cx="874.6" cy="185.5" r="5.5" fill="#2ca02c"/>
<circle cx="879.6" cy="722.5" r="9.7" fill="#fff"/><circle cx="879.6" cy="722.5" r="5.5" fill="#2ca02c"/>
<circle cx="883.4" cy="837.0" r="9.7" fill="#fff"/><circle cx="883.4" cy="837.0" r="5.5" fill="#2ca02c"/>
<circle cx="887.0" cy="647.4" r="9.7" fill="#fff"/><circle cx="887.0" cy="647.4" r="5.5" fill="#2ca02c"/>
<circle cx="891.7" cy="191.5" r="9.7" fill="#fff"/><circle cx="891.7" cy="191.5" r="5.5" fill="#2ca02c"/>
<circle cx="896.5" cy="654.4" r="9.7" fill="#fff"/><circle cx="896.5" cy="654.4" r="5.5" fill="#2ca02c"/>
<circle cx="900.5" cy="838.5" r="9.7" fill="#fff"/><circle cx="900.5" cy="838.5" r="5.5" fill="#2ca02c"/>
<circle cx="904.1" cy="715.5" r="9.7" fill="#fff"/><circle cx="904.1" cy="715.5" r="5.5" fill="#2ca02c"/>
<circle cx="909.5" cy="187.5" r="9.7" fill="#fff"/><circle cx="909.5" cy="187.5" r="5.5" fill="#2ca02c"/>
<circle cx="913.5" cy="579.4" r="9.7" fill="#fff"/><circle cx="913.5" cy="579.4" r="5.5" fill="#2ca02c"/>
<circle cx="917.5" cy="838.5" r="9.7" fill="#fff"/><circle cx="917.5" cy="838.5" r="5.5" fill="#2ca02c"/>
<circle cx="921.5" cy="463.3" r="9.7" fill="#fff"/><circle cx="921.5" cy="463.3" r="5.5" fill="#2ca02c"/>
<circle cx="926.5" cy="188.5" r="9.7" fill="#fff"/><circle cx="926.5" cy="188.5" r="5.5" fill="#2ca02c"/>
<circle cx="930.6" cy="574.4" r="9.7" fill="#fff"/><circle cx="930.6" cy="574.4" r="5.5" fill="#2ca02c"/>
<circle cx="934.6" cy="837.0" r="9.7" fill="#fff"/><circle cx="934.6" cy="837.0" r="5.5" fill="#2ca02c"/>
<circle cx="939.6" cy="471.4" r="9.7" fill="#fff"/><circle cx="939.6" cy="471.4" r="5.5" fill="#2ca02c"/>
<circle cx="943.5" cy="253.5" r="9.7" fill="#fff"/><circle cx="943.5" cy="253.5" r="5.5" fill="#2ca02c"/>
<circle cx="947.1" cy="819.4" r="9.7" fill="#fff"/><circle cx="947.1" cy="819.4" r="5.5" fill="#2ca02c"/>
<circle cx="951.4" cy="837.0" r="9.7" fill="#fff"/><circle cx="951.4" cy="837.0" r="5.5" fill="#2ca02c"/>
<circle cx="956.4" cy="484.4" r="9.7" fill="#fff"/><circle cx="956.4" cy="484.4" r="5.5" fill="#2ca02c"/>
<circle cx="960.5" cy="189.5" r="9.7" fill="#fff"/><circle cx="960.5" cy="189.5" r="5.5" fill="#2ca02c"/>
<circle cx="964.5" cy="460.3" r="9.7" fill="#fff"/><circle cx="964.5" cy="460.3" r="5.5" fill="#2ca02c"/>
<circle cx="968.5" cy="837.0" r="9.7" fill="#fff"/><circle cx="968.5" cy="837.0" r="5.5" fill="#2ca02c"/>
<circle cx="973.5" cy="583.4" r="9.7" fill="#fff"/><circle cx="973.5" cy="583.4" r="5.5" fill="#2ca02c"/>
<circle cx="977.5" cy="195.5" r="9.7" fill="#fff"/><circle cx="977.5" cy="195.5" r="5.5" fill="#2ca02c"/>
<circle cx="981.5" cy="723.5" r="9.7" fill="#fff"/><circle cx="981.5" cy="723.5" r="5.5" fill="#2ca02c"/>
<circle cx="986.3" cy="838.5" r="9.7" fill="#fff"/><circle cx="986.3" cy="838.5" r="5.5" fill="#2ca02c"/>
<circle cx="990.3" cy="646.4" r="9.7" fill="#fff"/><circle cx="990.3" cy="646.4" r="5.5" fill="#2ca02c"/>
<circle cx="994.5" cy="192.5" r="9.7" fill="#fff"/><circle cx="994.5" cy="192.5" r="5.5" fill="#2ca02c"/>
<circle cx="998.3" cy="599.2" r="9.7" fill="#fff"/><circle cx="998.3" cy="599.2" r="5.5" fill="#2ca02c"/>
<circle cx="1003.4" cy="836.0" r="9.7" fill="#fff"/><circle cx="1003.4" cy="836.0" r="5.5" fill="#2ca02c"/>
<circle cx="1007.2" cy="773.4" r="9.7" fill="#fff"/><circle cx="1007.2" cy="773.4" r="5.5" fill="#2ca02c"/>
<circle cx="1011.6" cy="190.5" r="9.7" fill="#fff"/><circle cx="1011.6" cy="190.5" r="5.5" fill="#2ca02c"/>
<circle cx="1016.2" cy="368.5" r="9.7" fill="#fff"/><circle cx="1016.2" cy="368.5" r="5.5" fill="#2ca02c"/>
<circle cx="1020.4" cy="838.5" r="9.7" fill="#fff"/><circle cx="1020.4" cy="838.5" r="5.5" fill="#2ca02c"/>
<circle cx="1024.3" cy="675.0" r="9.7" fill="#fff"/><circle cx="1024.3" cy="675.0" r="5.5" fill="#2ca02c"/>
<circle cx="1028.4" cy="187.5" r="9.7" fill="#fff"/><circle cx="1028.4" cy="187.5" r="5.5" fill="#2ca02c"/>
<circle cx="1033.2" cy="390.4" r="9.7" fill="#fff"/><circle cx="1033.2" cy="390.4" r="5.5" fill="#2ca02c"/>
<circle cx="1037.4" cy="817.4" r="9.7" fill="#fff"/><circle cx="1037.4" cy="817.4" r="5.5" fill="#2ca02c"/>
<circle cx="1041.3" cy="351.5" r="9.7" fill="#fff"/><circle cx="1041.3" cy="351.5" r="5.5" fill="#2ca02c"/>
<circle cx="1046.3" cy="192.5" r="9.7" fill="#fff"/><circle cx="1046.3" cy="192.5" r="5.5" fill="#2ca02c"/>
<circle cx="1050.5" cy="777.5" r="9.7" fill="#fff"/><circle cx="1050.5" cy="777.5" r="5.5" fill="#2ca02c"/>
<circle cx="1054.5" cy="838.5" r="9.7" fill="#fff"/><circle cx="1054.5" cy="838.5" r="5.5" fill="#2ca02c"/>
<circle cx="1058.3" cy="588.4" r="9.7" fill="#fff"/><circle cx="1058.3" cy="588.4" r="5.5" fill="#2ca02c"/>
<circle cx="1063.3" cy="208.3" r="9.7" fill="#fff"/><circle cx="1063.3" cy="208.3" r="5.5" fill="#2ca02c"/>
<circle cx="1067.3" cy="550.3" r="9.7" fill="#fff"/><circle cx="1067.3" cy="550.3" r="5.5" fill="#2ca02c"/>
<circle cx="1071.5" cy="838.5" r="9.7" fill="#fff"/><circle cx="1071.5" cy="838.5" r="5.5" fill="#2ca02c"/>
<circle cx="1076.3" cy="493.4" r="9.7" fill="#fff"/><circle cx="1076.3" cy="493.4" r="5.5" fill="#2ca02c"/>
<circle cx="1080.4" cy="302.6" r="9.7" fill="#fff"/><circle cx="1080.4" cy="302.6" r="5.5" fill="#2ca02c"/>
<circle cx="1084.4" cy="819.4" r="9.7" fill="#fff"/><circle cx="1084.4" cy="819.4" r="5.5" fill="#2ca02c"/>
<circle cx="1088.6" cy="838.5" r="9.7" fill="#fff"/><circle cx="1088.6" cy="838.5" r="5.5" fill="#2ca02c"/>
<circle cx="1093.6" cy="421.4" r="9.7" fill="#fff"/><circle cx="1093.6" cy="421.4" r="5.5" fill="#2ca02c"/>
<circle cx="1097.4" cy="225.4" r="9.7" fill="#fff"/><circle cx="1097.4" cy="225.4" r="5.5" fill="#2ca02c"/>
<circle cx="1101.4" cy="496.4" r="9.7" fill="#fff"/><circle cx="1101.4" cy="496.4" r="5.5" fill="#2ca02c"/>
<circle cx="1105.6" cy="838.5" r="9.7" fill="#fff"/><circle cx="1105.6" cy="838.5" r="5.5" fill="#2ca02c"/>
<circle cx="1110.4" cy="558.5" r="9.7" fill="#fff"/><circle cx="1110.4" cy="558.5" r="5.5" fill="#2ca02c"/>
<circle cx="1114.4" cy="195.5" r="9.7" fill="#fff"/><circle cx="1114.4" cy="195.5" r="5.5" fill="#2ca02c"/>
<circle cx="1118.4" cy="798.3" r="9.7" fill="#fff"/><circle cx="1118.4" cy="798.3" r="5.5" fill="#2ca02c"/>
<circle cx="1122.5" cy="838.5" r="9.7" fill="#fff"/><circle cx="1122.5" cy="838.5" r="5.5" fill="#2ca02c"/>
<circle cx="1127.5" cy="563.4" r="9.7" fill="#fff"/><circle cx="1127.5" cy="563.4" r="5.5" fill="#2ca02c"/>
<circle cx="1131.5" cy="306.4" r="9.7" fill="#fff"/><circle cx="1131.5" cy="306.4" r="5.5" fill="#2ca02c"/>
<circle cx="1135.5" cy="838.5" r="9.7" fill="#fff"/>
<circle cx="1139.8" cy="838.5" r="9.7" fill="#fff"/>
<circle cx="1144.1" cy="838.5" r="9.7" fill="#fff"/>
<circle cx="1148.4" cy="838.5" r="9.7" fill="#fff"/>
<circle cx="1152.7" cy="838.5" r="9.7" fill="#fff"/>
<circle cx="1156.9" cy="838.5" r="9.7" fill="#fff"/>
<circle cx="1161.2" cy="838.5" r="9.7" fill="#fff"/>
<circle cx="1165.5" cy="838.5" r="9.7" fill="#fff"/><circle cx="1165.5" cy="838.5" r="5.5" fill="#2ca02c"/>
</g>
<g fill="none" stroke-width="0.55" stroke-opacity="0.75">
<path d="M92.0 834.3A5.5 5.5 0 0 0 92.0 842.7" stroke="#2ca02c"/>
<path d="M104.8 834.3A5.5 5.5 0 0 0 104.8 842.7" stroke="#2ca02c"/>
<path d="M121.9 834.3A5.5 5.5 0 0 0 121.9 842.7" stroke="#2ca02c"/>
<path d="M134.8 834.3A5.5 5.5 0 0 0 134.8 842.7" stroke="#2ca02c"/>
<path d="M151.9 834.3A5.5 5.5 0 0 0 151.9 842.7" stroke="#2ca02c"/>
<path d="M169.0 834.3A5.5 5.5 0 0 0 169.0 842.7" stroke="#2ca02c"/>
<path d="M181.8 834.3A5.5 5.5 0 0 0 181.8 842.7" stroke="#2ca02c"/>
<path d="M199.0 834.3A5.5 5.5 0 0 0 199.0 842.7" stroke="#2ca02c"/>
<path d="M211.8 834.3A5.5 5.5 0 0 0 211.8 842.7" stroke="#2ca02c"/>
<path d="M228.9 834.3A5.5 5.5 0 0 0 228.9 842.7" stroke="#2ca02c"/>
<path d="M241.8 834.3A5.5 5.5 0 0 0 241.8 842.7" stroke="#2ca02c"/>
<path d="M1132.0 834.3A5.5 5.5 0 0 0 1132.0 842.7" stroke="#2ca02c"/>
<path d="M1149.1 834.3A5.5 5.5 0 0 0 1149.1 842.7" stroke="#2ca02c"/>
</g>
<text x="1086.6" y="80.2" text-anchor="end">TCP</text>
<path d="M1098.3 74.5H1144.5" stroke="#0060ad" stroke-width="2.0" stroke-linecap="round" fill="none"/>
<circle cx="1121.4" cy="74.5" r="9.7" fill="#fff"/><circle cx="1121.4" cy="74.5" r="5.5" fill="#0060ad"/>
<text x="1086.6" y="99.2" text-anchor="end">UDP</text>
<path d="M1098.3 93.5H1144.5" stroke="#ff7f0e" stroke-width="2.0" stroke-linecap="round" fill="none"/>
<circle cx="1121.4" cy="93.5" r="9.7" fill="#fff"/><circle cx="1121.4" cy="93.5" r="5.5" fill="#ff7f0e"/>
<text x="1086.6" y="118.3" text-anchor="end">IP (!TCP  !UDP)</text>
<path d="M1098.3 112.6H1144.5" stroke="#2ca02c" stroke-width="2.0" stroke-linecap="round" fill="none"/>
<circle cx="1121.4" cy="112.6" r="9.7" fill="#fff"/><circle cx="1121.4" cy="112.6" r="5.5" fill="#2ca02c"/>
<path d="M95.5 57.0V838.5H1165.6" stroke="#000" stroke-width="1" fill="none"/>
<text x="86.3" y="844.4" text-anchor="end">0</text>
<text x="86.3" y="688.4" text-anchor="end">500</text>
<text x="86.3" y="532.4" text-anchor="end">1000</text>
<text x="86.3" y="376.4" text-anchor="end">1500</text>
<text x="86.3" y="219.4" text-anchor="end">2000</text>
<text x="86.3" y="63.4" text-anchor="end">2500</text>
<text x="98.3" y="864" text-anchor="middle">0</text>
<text x="312.3" y="864" text-anchor="middle">50</text>
<text x="526.3" y="864" text-anchor="middle">100</text>
<text x="740.3" y="864" text-anchor="middle">150</text>
<text x="954.3" y="864" text-anchor="middle">200</text>
<text x="1168.3" y="864" text-anchor="middle">250</text>
<text x="630.5" y="891.8" text-anchor="middle">Time (s)</text>
<text transform="translate(24.4 447.9) rotate(-90)" text-anchor="middle">Packets</text>
<text x="-34.5" y="34.6" id="title">/mnt/stor0/searchlight/corpus/tiered/ipsec/sts/experiment<tspan font-size="12.8" dy="4.8">3</tspan><tspan dy="-4.8">/eth1</tspan><tspan font-size="12.8" dy="4.8">i</tspan><tspan dy="-4.8">nterface/exp-a-720-dash-http3/1648509760-c1.ipsecsts.tiered.pharos-exp-a-720-dash-http3.pcap</tspan></text>
</svg></body></html>
